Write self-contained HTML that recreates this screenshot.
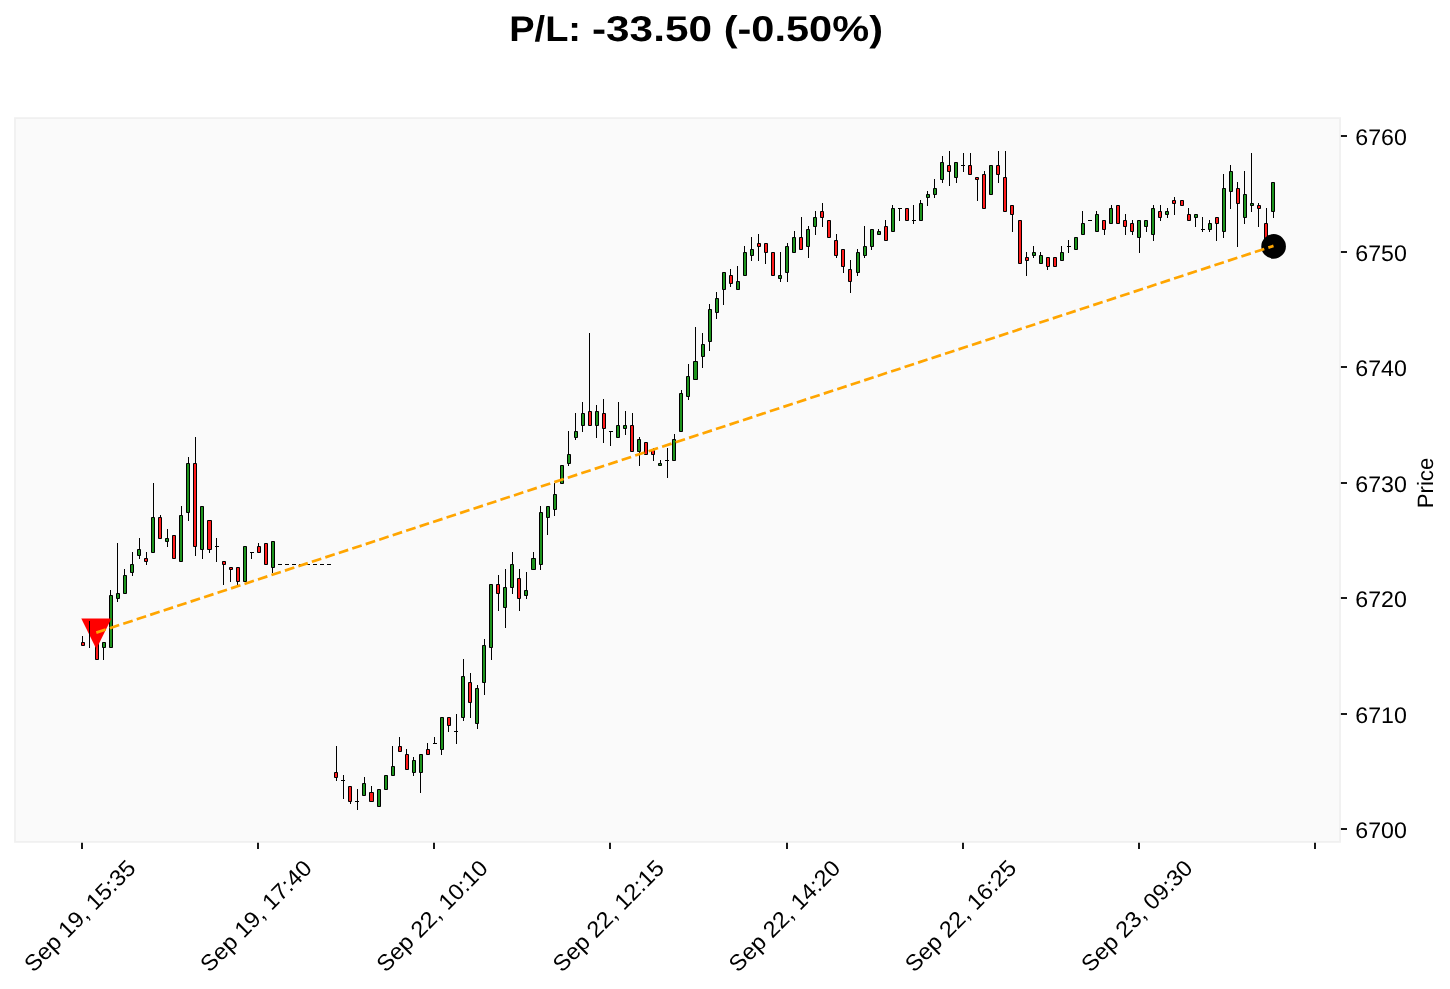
<!DOCTYPE html>
<html><head><meta charset="utf-8"><title>P/L chart</title>
<style>html,body{margin:0;padding:0;background:#fff;width:1450px;height:989px;overflow:hidden}svg{display:block;will-change:transform;text-rendering:geometricPrecision;font-family:"Liberation Sans",sans-serif}</style>
</head><body>
<svg width="1450" height="989" viewBox="0 0 1450 989" font-family="Liberation Sans, sans-serif" fill="#000">
<rect x="0" y="0" width="1450" height="989" fill="#ffffff"/>
<rect x="15.0" y="118.1" width="1325.00" height="723.80" fill="#fafafa" stroke="#f0f0f0" stroke-width="1.8"/>
<path d="M82.5 636V642.5M89.5 621V648M103.5 647.5V660M110.5 590V595.5M117.5 543V593.5M117.5 598.5V602M124.5 569V575.5M132.5 552V564.5M132.5 572.5V576M139.5 538V549.5M139.5 555.5V559M146.5 552V558.5M146.5 561.5V565M153.5 483V517.5M160.5 515V517.5M167.5 529V538.5M167.5 541.5V547M181.5 506V515.5M188.5 457V463.5M188.5 512.5V521M195.5 437V463.5M195.5 546.5V556M202.5 549.5V559M209.5 549.5V553M216.5 538V546.5M216.5 546.5V562M223.5 564.5V585M230.5 569.5V582M237.5 581.5V585M251.5 552.5V559M258.5 543V546.5M272.5 567.5V573M336.5 746V772.5M336.5 777.5V781M343.5 775V780.5M343.5 780.5V799M350.5 801.5V804M357.5 789V801.5M357.5 801.5V810M364.5 777V783.5M371.5 786V792.5M392.5 746V766.5M399.5 737V746.5M406.5 749V754.5M413.5 757V760.5M413.5 772.5V776M420.5 772.5V793M427.5 743V749.5M434.5 737V743.5M441.5 749.5V755M448.5 725.5V732M456.5 714V731.5M456.5 731.5V744M463.5 659V676.5M463.5 717.5V721M470.5 673V682.5M470.5 702.5V718M477.5 685V688.5M477.5 723.5V729M484.5 639V645.5M484.5 682.5V695M491.5 647.5V660M498.5 575V584.5M498.5 593.5V611M505.5 569V587.5M505.5 607.5V628M512.5 552V564.5M512.5 587.5V594M519.5 569V578.5M519.5 598.5V611M526.5 572V590.5M526.5 595.5V599M533.5 552V558.5M540.5 506V512.5M540.5 564.5V570M547.5 517.5V535M554.5 483V494.5M554.5 509.5V516M568.5 431V454.5M568.5 463.5V466M575.5 413V431.5M575.5 437.5V440M582.5 402V413.5M582.5 425.5V432M589.5 333V411.5M596.5 405V411.5M596.5 425.5V438M603.5 399V413.5M603.5 428.5V443M610.5 431.5V446M618.5 402V425.5M625.5 411V425.5M625.5 428.5V435M632.5 413V425.5M639.5 437V439.5M639.5 451.5V466M653.5 448V450.5M653.5 454.5V461M660.5 460V463.5M667.5 448V460.5M667.5 460.5V478M674.5 434V439.5M681.5 390V393.5M688.5 364V376.5M688.5 396.5V400M695.5 327V361.5M702.5 333V344.5M702.5 356.5V368M709.5 304V309.5M709.5 341.5V351M716.5 292V298.5M716.5 312.5V319M723.5 289.5V305M730.5 269V275.5M730.5 283.5V287M737.5 266V281.5M744.5 246V252.5M751.5 237V249.5M751.5 255.5V261M758.5 234V243.5M758.5 246.5V261M765.5 252.5V264M780.5 252V275.5M780.5 278.5V282M787.5 243V246.5M787.5 272.5V282M794.5 231V237.5M801.5 217V237.5M808.5 226V229.5M808.5 246.5V258M815.5 211V217.5M815.5 226.5V235M822.5 203V211.5M822.5 217.5V227M836.5 234V240.5M836.5 255.5V258M843.5 266.5V273M850.5 260V269.5M850.5 281.5V293M857.5 249V252.5M857.5 272.5V276M864.5 226V246.5M864.5 255.5V258M871.5 246.5V250M878.5 229V231.5M885.5 220V226.5M892.5 205V208.5M899.5 208.5V221M913.5 205V220.5M913.5 220.5V224M920.5 200V203.5M927.5 191V194.5M927.5 197.5V206M934.5 179V188.5M934.5 194.5V198M942.5 156V162.5M942.5 179.5V183M949.5 151V165.5M949.5 171.5V186M956.5 177.5V183M963.5 153V165.5M963.5 165.5V172M970.5 153V165.5M977.5 179.5V201M984.5 171V174.5M998.5 151V165.5M998.5 174.5V183M1005.5 151V177.5M1012.5 214.5V232M1026.5 252V257.5M1026.5 260.5V276M1033.5 246V252.5M1033.5 255.5V258M1040.5 252V255.5M1047.5 266.5V270M1061.5 246V252.5M1068.5 240V246.5M1068.5 246.5V253M1082.5 211V223.5M1096.5 211V214.5M1104.5 229.5V235M1111.5 205V208.5M1125.5 214V220.5M1125.5 226.5V235M1132.5 220V223.5M1132.5 231.5V235M1139.5 237.5V253M1146.5 226.5V232M1153.5 205V208.5M1153.5 234.5V241M1160.5 205V211.5M1160.5 217.5V221M1167.5 208V211.5M1167.5 214.5V218M1174.5 197V200.5M1174.5 203.5V215M1188.5 208V214.5M1195.5 217.5V227M1202.5 217V229.5M1202.5 229.5V232M1209.5 220V223.5M1209.5 229.5V232M1216.5 223.5V241M1223.5 174V188.5M1223.5 231.5V238M1230.5 165V171.5M1230.5 191.5V209M1237.5 182V188.5M1237.5 203.5V247M1244.5 171V194.5M1244.5 217.5V224M1251.5 153V203.5M1251.5 205.5V212M1258.5 203V205.5M1258.5 208.5V227M1266.5 208V223.5M1273.5 211.5V218" stroke="#000" stroke-width="1.0" fill="none"/>
<path d="M81.5 642.5H84.5V645.5H81.5ZM95.5 636.5H98.5V659.5H95.5ZM144.5 558.5H147.5V561.5H144.5ZM158.5 517.5H161.5V538.5H158.5ZM172.5 535.5H175.5V558.5H172.5ZM193.5 463.5H196.5V546.5H193.5ZM207.5 520.5H211.5V549.5H207.5ZM222.5 561.5H225.5V564.5H222.5ZM229.5 567.5H232.5V569.5H229.5ZM236.5 567.5H239.5V581.5H236.5ZM257.5 546.5H260.5V552.5H257.5ZM264.5 543.5H267.5V564.5H264.5ZM334.5 772.5H337.5V777.5H334.5ZM348.5 786.5H351.5V801.5H348.5ZM369.5 792.5H373.5V801.5H369.5ZM398.5 746.5H401.5V751.5H398.5ZM405.5 754.5H408.5V769.5H405.5ZM426.5 749.5H429.5V754.5H426.5ZM447.5 717.5H450.5V725.5H447.5ZM468.5 682.5H471.5V702.5H468.5ZM496.5 584.5H499.5V593.5H496.5ZM517.5 578.5H520.5V598.5H517.5ZM588.5 411.5H591.5V425.5H588.5ZM602.5 413.5H605.5V428.5H602.5ZM630.5 425.5H633.5V451.5H630.5ZM644.5 442.5H647.5V454.5H644.5ZM651.5 450.5H654.5V454.5H651.5ZM729.5 275.5H732.5V283.5H729.5ZM757.5 243.5H760.5V246.5H757.5ZM764.5 243.5H767.5V252.5H764.5ZM771.5 252.5H774.5V275.5H771.5ZM799.5 237.5H802.5V249.5H799.5ZM820.5 211.5H823.5V217.5H820.5ZM827.5 220.5H830.5V237.5H827.5ZM834.5 240.5H837.5V255.5H834.5ZM841.5 249.5H844.5V266.5H841.5ZM848.5 269.5H851.5V281.5H848.5ZM884.5 226.5H887.5V240.5H884.5ZM905.5 208.5H908.5V220.5H905.5ZM947.5 165.5H950.5V171.5H947.5ZM968.5 165.5H971.5V174.5H968.5ZM975.5 177.5H978.5V179.5H975.5ZM982.5 174.5H985.5V208.5H982.5ZM996.5 165.5H999.5V174.5H996.5ZM1003.5 177.5H1006.5V211.5H1003.5ZM1010.5 205.5H1013.5V214.5H1010.5ZM1018.5 220.5H1021.5V263.5H1018.5ZM1025.5 257.5H1028.5V260.5H1025.5ZM1046.5 257.5H1049.5V266.5H1046.5ZM1053.5 257.5H1056.5V266.5H1053.5ZM1102.5 220.5H1105.5V229.5H1102.5ZM1116.5 205.5H1119.5V223.5H1116.5ZM1123.5 220.5H1126.5V226.5H1123.5ZM1130.5 223.5H1133.5V231.5H1130.5ZM1158.5 211.5H1161.5V217.5H1158.5ZM1172.5 200.5H1175.5V203.5H1172.5ZM1180.5 200.5H1183.5V205.5H1180.5ZM1187.5 214.5H1190.5V220.5H1187.5ZM1215.5 217.5H1218.5V223.5H1215.5ZM1236.5 188.5H1239.5V203.5H1236.5ZM1257.5 205.5H1260.5V208.5H1257.5ZM1264.5 223.5H1267.5V240.5H1264.5Z" fill="rgb(255,27,27)" fill-opacity="1" stroke="#000" stroke-width="1"/>
<path d="M102.5 642.5H105.5V647.5H102.5ZM109.5 595.5H112.5V647.5H109.5ZM116.5 593.5H119.5V598.5H116.5ZM123.5 575.5H126.5V593.5H123.5ZM130.5 564.5H133.5V572.5H130.5ZM137.5 549.5H140.5V555.5H137.5ZM151.5 517.5H154.5V552.5H151.5ZM165.5 538.5H168.5V541.5H165.5ZM179.5 515.5H182.5V561.5H179.5ZM186.5 463.5H189.5V512.5H186.5ZM200.5 506.5H203.5V549.5H200.5ZM243.5 546.5H246.5V581.5H243.5ZM271.5 541.5H274.5V567.5H271.5ZM362.5 783.5H365.5V795.5H362.5ZM377.5 789.5H380.5V806.5H377.5ZM384.5 775.5H387.5V789.5H384.5ZM391.5 766.5H394.5V775.5H391.5ZM412.5 760.5H415.5V772.5H412.5ZM419.5 754.5H422.5V772.5H419.5ZM440.5 717.5H443.5V749.5H440.5ZM461.5 676.5H464.5V717.5H461.5ZM475.5 688.5H478.5V723.5H475.5ZM482.5 645.5H485.5V682.5H482.5ZM489.5 584.5H492.5V647.5H489.5ZM503.5 587.5H506.5V607.5H503.5ZM510.5 564.5H513.5V587.5H510.5ZM524.5 590.5H527.5V595.5H524.5ZM531.5 558.5H535.5V569.5H531.5ZM539.5 512.5H542.5V564.5H539.5ZM546.5 506.5H549.5V517.5H546.5ZM553.5 494.5H556.5V509.5H553.5ZM560.5 465.5H563.5V483.5H560.5ZM567.5 454.5H570.5V463.5H567.5ZM574.5 431.5H577.5V437.5H574.5ZM581.5 413.5H584.5V425.5H581.5ZM595.5 411.5H598.5V425.5H595.5ZM616.5 425.5H619.5V437.5H616.5ZM623.5 425.5H626.5V428.5H623.5ZM637.5 439.5H640.5V451.5H637.5ZM658.5 463.5H661.5V465.5H658.5ZM672.5 439.5H675.5V460.5H672.5ZM679.5 393.5H682.5V431.5H679.5ZM686.5 376.5H689.5V396.5H686.5ZM693.5 361.5H697.5V379.5H693.5ZM701.5 344.5H704.5V356.5H701.5ZM708.5 309.5H711.5V341.5H708.5ZM715.5 298.5H718.5V312.5H715.5ZM722.5 272.5H725.5V289.5H722.5ZM736.5 281.5H739.5V289.5H736.5ZM743.5 252.5H746.5V275.5H743.5ZM750.5 249.5H753.5V255.5H750.5ZM778.5 275.5H781.5V278.5H778.5ZM785.5 246.5H788.5V272.5H785.5ZM792.5 237.5H795.5V252.5H792.5ZM806.5 229.5H809.5V246.5H806.5ZM813.5 217.5H816.5V226.5H813.5ZM856.5 252.5H859.5V272.5H856.5ZM863.5 246.5H866.5V255.5H863.5ZM870.5 229.5H873.5V246.5H870.5ZM877.5 231.5H880.5V234.5H877.5ZM891.5 208.5H894.5V231.5H891.5ZM919.5 203.5H922.5V220.5H919.5ZM926.5 194.5H929.5V197.5H926.5ZM933.5 188.5H936.5V194.5H933.5ZM940.5 162.5H943.5V179.5H940.5ZM954.5 162.5H957.5V177.5H954.5ZM989.5 165.5H992.5V194.5H989.5ZM1032.5 252.5H1035.5V255.5H1032.5ZM1039.5 255.5H1042.5V263.5H1039.5ZM1060.5 252.5H1063.5V260.5H1060.5ZM1074.5 237.5H1077.5V249.5H1074.5ZM1081.5 223.5H1084.5V234.5H1081.5ZM1095.5 214.5H1098.5V231.5H1095.5ZM1109.5 208.5H1112.5V223.5H1109.5ZM1137.5 220.5H1140.5V237.5H1137.5ZM1144.5 220.5H1147.5V226.5H1144.5ZM1151.5 208.5H1154.5V234.5H1151.5ZM1165.5 211.5H1168.5V214.5H1165.5ZM1194.5 214.5H1197.5V217.5H1194.5ZM1208.5 223.5H1211.5V229.5H1208.5ZM1222.5 188.5H1225.5V231.5H1222.5ZM1229.5 171.5H1232.5V191.5H1229.5ZM1243.5 194.5H1246.5V217.5H1243.5ZM1250.5 203.5H1253.5V205.5H1250.5ZM1271.5 182.5H1274.5V211.5H1271.5Z" fill="rgb(28,147,28)" fill-opacity="1" stroke="#000" stroke-width="1"/>
<path d="M215 546.5H219M250 552.5H254M278 564.5H282M285 564.5H289M292 564.5H296M299 564.5H303M306 564.5H310M313 564.5H317M320 564.5H324M327 564.5H331M341 780.5H345M355 801.5H359M433 743.5H437M454 731.5H458M609 431.5H613M665 460.5H669M898 208.5H902M912 220.5H916M961 165.5H965M1067 246.5H1071M1088 220.5H1092M1201 229.5H1205" stroke="#000" stroke-width="1" fill="none"/>
<polygon points="81.3,618.6 111.4,618.6 96.35,649.0" fill="#ff0000"/>
<path d="M89.5 621V648" stroke="#000" stroke-width="1"/>
<circle cx="1273.6" cy="246.4" r="12.3" fill="#000"/>
<line x1="96.3" y1="632.6" x2="1273.5" y2="245.9" stroke="#ffa500" stroke-width="2.7" stroke-dasharray="9.9 4.28"/>
<line x1="1340.9" y1="136" x2="1347.0" y2="136" stroke="#000" stroke-width="1.8"/>
<text x="1355.3" y="145.20" font-size="22.6" textLength="51.6" lengthAdjust="spacingAndGlyphs">6760</text>
<line x1="1340.9" y1="252" x2="1347.0" y2="252" stroke="#000" stroke-width="1.8"/>
<text x="1355.3" y="260.70" font-size="22.6" textLength="51.6" lengthAdjust="spacingAndGlyphs">6750</text>
<line x1="1340.9" y1="367" x2="1347.0" y2="367" stroke="#000" stroke-width="1.8"/>
<text x="1355.3" y="376.20" font-size="22.6" textLength="51.6" lengthAdjust="spacingAndGlyphs">6740</text>
<line x1="1340.9" y1="483" x2="1347.0" y2="483" stroke="#000" stroke-width="1.8"/>
<text x="1355.3" y="491.70" font-size="22.6" textLength="51.6" lengthAdjust="spacingAndGlyphs">6730</text>
<line x1="1340.9" y1="598" x2="1347.0" y2="598" stroke="#000" stroke-width="1.8"/>
<text x="1355.3" y="607.20" font-size="22.6" textLength="51.6" lengthAdjust="spacingAndGlyphs">6720</text>
<line x1="1340.9" y1="714" x2="1347.0" y2="714" stroke="#000" stroke-width="1.8"/>
<text x="1355.3" y="722.70" font-size="22.6" textLength="51.6" lengthAdjust="spacingAndGlyphs">6710</text>
<line x1="1340.9" y1="829" x2="1347.0" y2="829" stroke="#000" stroke-width="1.8"/>
<text x="1355.3" y="838.20" font-size="22.6" textLength="51.6" lengthAdjust="spacingAndGlyphs">6700</text>
<text transform="translate(1433.2,483) rotate(-90)" text-anchor="middle" font-size="22.2">Price</text>
<line x1="82" y1="842.8" x2="82" y2="848.9" stroke="#000" stroke-width="1.8"/>
<text transform="translate(137.00,869.60) rotate(-45)" text-anchor="end" font-size="22.6" textLength="146.5" lengthAdjust="spacingAndGlyphs">Sep 19, 15:35</text>
<line x1="258" y1="842.8" x2="258" y2="848.9" stroke="#000" stroke-width="1.8"/>
<text transform="translate(313.17,869.60) rotate(-45)" text-anchor="end" font-size="22.6" textLength="146.5" lengthAdjust="spacingAndGlyphs">Sep 19, 17:40</text>
<line x1="434" y1="842.8" x2="434" y2="848.9" stroke="#000" stroke-width="1.8"/>
<text transform="translate(489.34,869.60) rotate(-45)" text-anchor="end" font-size="22.6" textLength="146.5" lengthAdjust="spacingAndGlyphs">Sep 22, 10:10</text>
<line x1="610" y1="842.8" x2="610" y2="848.9" stroke="#000" stroke-width="1.8"/>
<text transform="translate(665.50,869.60) rotate(-45)" text-anchor="end" font-size="22.6" textLength="146.5" lengthAdjust="spacingAndGlyphs">Sep 22, 12:15</text>
<line x1="787" y1="842.8" x2="787" y2="848.9" stroke="#000" stroke-width="1.8"/>
<text transform="translate(841.67,869.60) rotate(-45)" text-anchor="end" font-size="22.6" textLength="146.5" lengthAdjust="spacingAndGlyphs">Sep 22, 14:20</text>
<line x1="963" y1="842.8" x2="963" y2="848.9" stroke="#000" stroke-width="1.8"/>
<text transform="translate(1017.84,869.60) rotate(-45)" text-anchor="end" font-size="22.6" textLength="146.5" lengthAdjust="spacingAndGlyphs">Sep 22, 16:25</text>
<line x1="1139" y1="842.8" x2="1139" y2="848.9" stroke="#000" stroke-width="1.8"/>
<text transform="translate(1194.01,869.60) rotate(-45)" text-anchor="end" font-size="22.6" textLength="146.5" lengthAdjust="spacingAndGlyphs">Sep 23, 09:30</text>
<line x1="1315" y1="842.8" x2="1315" y2="848.9" stroke="#000" stroke-width="1.8"/>
<text x="509.3" y="41.0" font-size="35.8" font-weight="bold" textLength="71.7" lengthAdjust="spacingAndGlyphs">P/L:</text>
<text x="592.0" y="41.0" font-size="35.8" font-weight="bold" textLength="120.0" lengthAdjust="spacingAndGlyphs">-33.50</text>
<text x="723.7" y="41.0" font-size="35.8" font-weight="bold" textLength="159.3" lengthAdjust="spacingAndGlyphs">(-0.50%)</text>
</svg>
</body></html>
